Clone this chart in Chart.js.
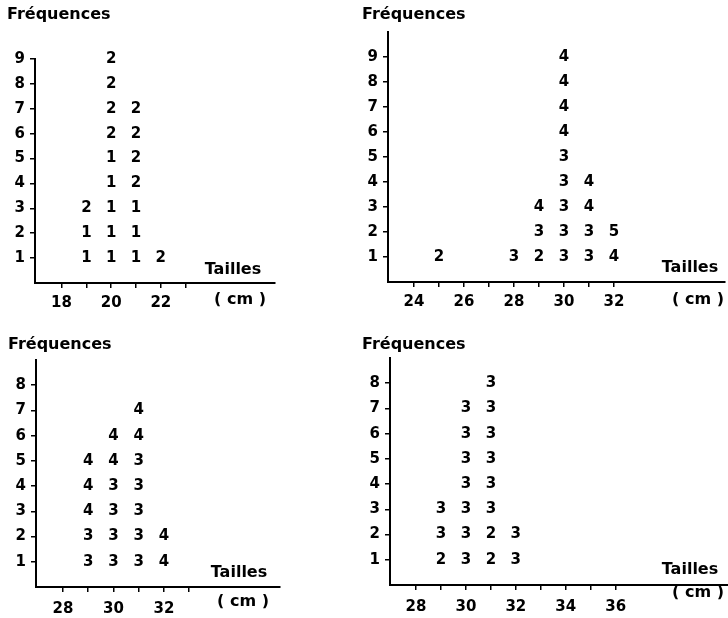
<!DOCTYPE html>
<html>
<head>
<meta charset="utf-8">
<script src="https://cdn.jsdelivr.net/npm/chart.js@4/dist/chart.umd.min.js"></script>
<style>
  body { margin: 0; background: #fff; width: 728px; height: 618px; overflow: hidden; }
  canvas { position: absolute; }
</style>
</head>
<body>
<canvas id="c1" width="364" height="315" style="left:0;top:0"></canvas>
<canvas id="c2" width="368" height="315" style="left:360px;top:0"></canvas>
<canvas id="c3" width="364" height="318" style="left:0;top:300px"></canvas>
<canvas id="c4" width="368" height="318" style="left:360px;top:300px"></canvas>
<script>
// sizes (cm) of each column, and the digit written at each frequency level (bottom to top)
const sizes1 = [19, 20, 21, 22];
const digits1 = [[1, 1, 2], [1, 1, 1, 1, 1, 2, 2, 2, 2], [1, 1, 1, 2, 2, 2, 2], [2]];
const xTicks1 = [18, 19, 20, 21, 22, 23];
const yTicks1 = [1, 2, 3, 4, 5, 6, 7, 8, 9];

const sizes2 = [25, 28, 29, 30, 31, 32];
const digits2 = [[2], [3], [2, 3, 4], [3, 3, 3, 3, 3, 4, 4, 4, 4], [3, 3, 4, 4], [4, 5]];
const xTicks2 = [24, 25, 26, 27, 28, 29, 30, 31, 32];
const yTicks2 = [1, 2, 3, 4, 5, 6, 7, 8, 9];

const sizes3 = [29, 30, 31, 32];
const digits3 = [[3, 3, 4, 4, 4], [3, 3, 3, 3, 4, 4], [3, 3, 3, 3, 3, 4, 4], [4, 4]];
const xTicks3 = [28, 29, 30, 31, 32, 33];
const yTicks3 = [1, 2, 3, 4, 5, 6, 7, 8];

const sizes4 = [29, 30, 31, 32];
const digits4 = [[2, 3, 3], [3, 3, 3, 3, 3, 3, 3], [2, 2, 3, 3, 3, 3, 3, 3], [3, 3]];
const xTicks4 = [28, 29, 30, 31, 32, 33, 34, 35, 36];
const yTicks4 = [1, 2, 3, 4, 5, 6, 7, 8];

const yTitle = "Fréquences";
const xTitle = "Tailles";
const unitLabel = "( cm )";

Chart.defaults.font.family = '"DejaVu Sans", sans-serif';
Chart.defaults.font.size = 15;
Chart.defaults.font.weight = "bold";
Chart.defaults.color = "#000";

const digitLabels = {
  id: "digitLabels",
  afterDatasetsDraw(chart) {
    const ctx = chart.ctx;
    ctx.save();
    ctx.font = 'bold 15px "DejaVu Sans"';
    ctx.fillStyle = "#000";
    ctx.textAlign = "center";
    ctx.textBaseline = "middle";
    chart.data.datasets.forEach((ds, i) => {
      chart.getDatasetMeta(i).data.forEach((pt, j) => {
        ctx.fillText(String(ds.data[j].d), pt.x, pt.y);
      });
    });
    ctx.restore();
  },
};

const panelText = {
  id: "panelText",
  afterDraw(chart, args, opts) {
    const ctx = chart.ctx;
    ctx.save();
    ctx.fillStyle = "#000";
    ctx.textBaseline = "middle";
    opts.items.forEach((t) => {
      ctx.font = t.font;
      ctx.textAlign = t.align;
      ctx.fillText(t.text, t.x, t.y);
    });
    ctx.restore();
  },
};

function makePanel(id, sizes, digits, xTicks, yTicks, lay) {
  const canvas = document.getElementById(id);
  const points = [];
  sizes.forEach((s, i) => {
    digits[i].forEach((d, k) => points.push({ x: s, y: k + 1, d: d }));
  });

  new Chart(canvas, {
    type: "scatter",
    data: { datasets: [{ data: points, pointRadius: 0, pointHoverRadius: 0 }] },
    options: {
      responsive: false,
      animation: false,
      devicePixelRatio: 1,
      layout: { padding: { left: 0, top: lay.top, right: canvas.width - lay.right, bottom: 0 } },
      plugins: {
        legend: { display: false },
        tooltip: { enabled: false },
        panelText: {
          items: [
            { text: yTitle, x: lay.yt[0], y: lay.yt[1], align: "left", font: 'bold 16px "DejaVu Sans"' },
            { text: xTitle, x: lay.xt[0], y: lay.xt[1], align: "center", font: 'bold 16px "DejaVu Sans"' },
            { text: unitLabel, x: lay.cm[0], y: lay.cm[1], align: "center", font: 'bold 16px "DejaVu Sans"' },
          ],
        },
      },
      scales: {
        x: {
          type: "linear",
          min: lay.xMin,
          max: lay.xMax,
          afterBuildTicks: (sc) => { sc.ticks = xTicks.map((v) => ({ value: v })); },
          afterFit: (sc) => { sc.height = canvas.height - lay.bottom; },
          ticks: {
            padding: lay.pad,
            maxRotation: 0,
            autoSkip: false,
            callback: (v) => (v % 2 === 0 ? String(v) : ""),
          },
          grid: { drawOnChartArea: false, tickLength: 5, color: "#000", lineWidth: 1.5 },
          border: { color: "#000", width: 2 },
        },
        y: {
          type: "linear",
          min: 0,
          max: lay.yMax,
          afterBuildTicks: (sc) => { sc.ticks = yTicks.map((v) => ({ value: v })); },
          afterFit: (sc) => { sc.width = lay.left; },
          ticks: { padding: 5, autoSkip: false },
          grid: { drawOnChartArea: false, tickLength: 5, color: "#000", lineWidth: 1.5 },
          border: { color: "#000", width: 2 },
        },
      },
    },
    plugins: [digitLabels, panelText],
  });
}

makePanel("c1", sizes1, digits1, xTicks1, yTicks1, {
  left: 35, top: 59, right: 275, bottom: 283, xMin: 16.93, xMax: 26.6, yMax: 9, pad: 6,
  yt: [7, 15], xt: [233, 270], cm: [240, 300],
});
makePanel("c2", sizes2, digits2, xTicks2, yTicks2, {
  left: 28, top: 32, right: 365, bottom: 282, xMin: 22.96, xMax: 36.44, yMax: 10, pad: 6,
  yt: [2, 15], xt: [330, 268], cm: [338, 300],
});
makePanel("c3", sizes3, digits3, xTicks3, yTicks3, {
  left: 36, top: 60, right: 280, bottom: 287, xMin: 26.93, xMax: 36.6, yMax: 9, pad: 8,
  yt: [8, 45], xt: [239, 273], cm: [243, 302],
});
makePanel("c4", sizes4, digits4, xTicks4, yTicks4, {
  left: 30, top: 58, right: 368, bottom: 285, xMin: 26.96, xMax: 40.5, yMax: 9, pad: 8,
  yt: [2, 45], xt: [330, 270], cm: [338, 293],
});
</script>
</body>
</html>
